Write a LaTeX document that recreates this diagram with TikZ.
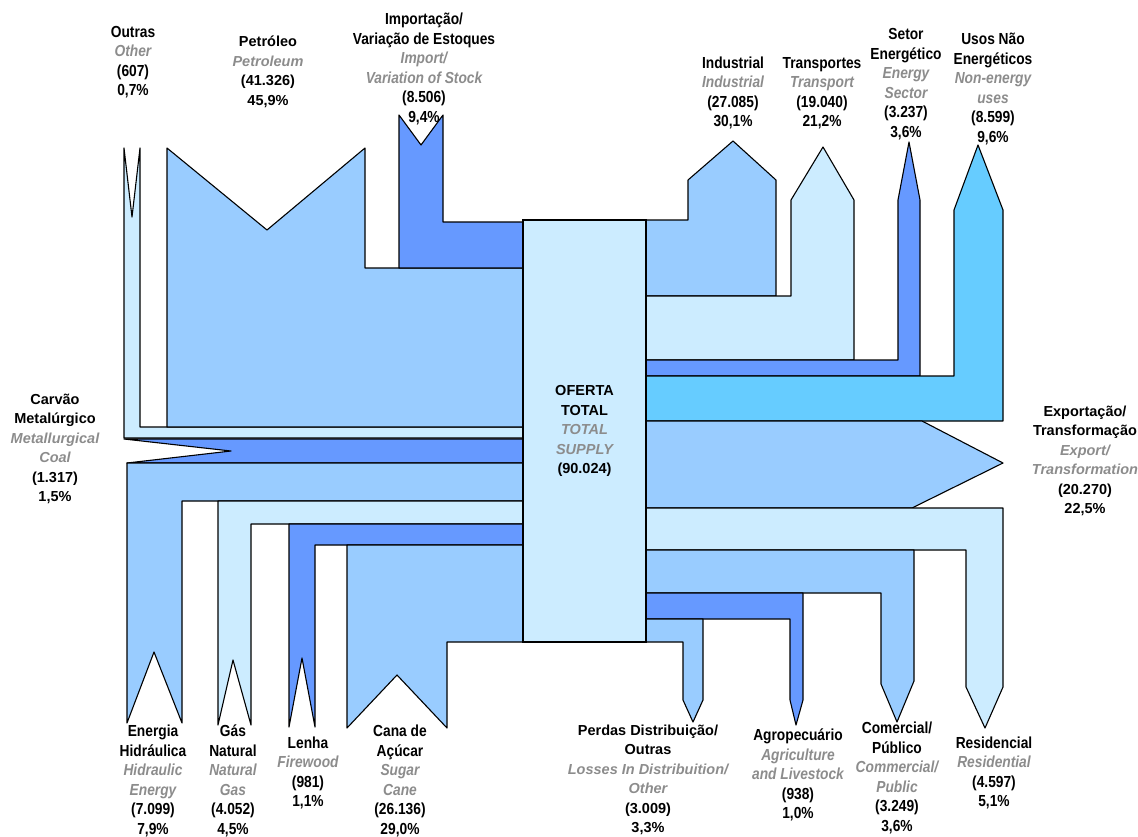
\documentclass[tikz,border=0pt]{standalone}
\usepackage{fontspec}
\setmainfont{Liberation Sans}
\newfontfamily\condfont{Liberation Sans}[FakeStretch=0.86]
\definecolor{flowmid}{HTML}{99CCFF}
\definecolor{flowlight}{HTML}{CCECFF}
\definecolor{flowdark}{HTML}{6699FF}
\definecolor{flowcyan}{HTML}{66CCFF}
\definecolor{engray}{HTML}{8C8C8C}
\newcommand{\en}[1]{\textcolor{engray}{\itshape #1}}
\tikzset{
  flow/.style={draw=black, line width=1.1pt, line join=round},
  lab/.style={align=center, inner sep=0pt, font=\condfont\bfseries\fontsize{16}{19.5}\selectfont},
  labn/.style={align=center, inner sep=0pt, font=\bfseries\fontsize{14.5}{19.5}\selectfont},
}
\begin{document}
\begin{tikzpicture}[x=1pt, y=-1pt]
\useasboundingbox (0,0) rectangle (1138,836);

% ---- sources (left / top / bottom) ----
% Outras
\filldraw[flow, fill=flowlight] (124,148) -- (132,217) -- (140,148) -- (140,427) -- (523,427) -- (523,438) -- (124,438) -- cycle;
% Petroleo
\filldraw[flow, fill=flowmid] (167,148) -- (267,230) -- (365,148) -- (365,268) -- (523,268) -- (523,427) -- (167,427) -- cycle;
% Importacao / variacao de estoques
\filldraw[flow, fill=flowdark] (399,115) -- (421,145) -- (443,115) -- (443,222) -- (523,222) -- (523,268) -- (399,268) -- cycle;
% Carvao metalurgico
\filldraw[flow, fill=flowdark] (124,439) -- (523,439) -- (523,463) -- (127,463) -- (231,451) -- cycle;
% Energia hidraulica
\filldraw[flow, fill=flowmid] (127,463) -- (523,463) -- (523,501) -- (182,501) -- (182,723) -- (154,652) -- (127,723) -- cycle;
% Gas natural
\filldraw[flow, fill=flowlight] (218,501) -- (523,501) -- (523,524) -- (251,524) -- (251,725) -- (233,660) -- (218,725) -- cycle;
% Lenha
\filldraw[flow, fill=flowdark] (289,524) -- (523,524) -- (523,545) -- (315,545) -- (315,727) -- (302,658) -- (289,727) -- cycle;
% Cana de acucar
\filldraw[flow, fill=flowmid] (347,545) -- (523,545) -- (523,642) -- (447,642) -- (447,728) -- (397,675) -- (347,728) -- cycle;

% ---- uses (right / top / bottom) ----
% Industrial
\filldraw[flow, fill=flowmid] (646,220) -- (688,220) -- (688,180) -- (733,141) -- (776,180) -- (776,296) -- (646,296) -- cycle;
% Transportes
\filldraw[flow, fill=flowlight] (646,296) -- (791,296) -- (791,200) -- (823,147) -- (854,200) -- (854,360) -- (646,360) -- cycle;
% Setor energetico
\filldraw[flow, fill=flowdark] (646,360) -- (898,360) -- (898,200) -- (909,142) -- (920,200) -- (920,376) -- (646,376) -- cycle;
% Usos nao energeticos
\filldraw[flow, fill=flowcyan] (646,376) -- (954,376) -- (954,210) -- (978,145) -- (1003,210) -- (1003,421) -- (646,421) -- cycle;
% Exportacao / transformacao
\filldraw[flow, fill=flowmid] (646,421) -- (922,421) -- (1003,463) -- (912,508) -- (646,508) -- cycle;
% Residencial
\filldraw[flow, fill=flowlight] (646,508) -- (1003,508) -- (1003,687) -- (985,728) -- (966,687) -- (966,550) -- (646,550) -- cycle;
% Comercial / publico
\filldraw[flow, fill=flowmid] (646,550) -- (914,550) -- (914,681) -- (897,722) -- (881,684) -- (881,593) -- (646,593) -- cycle;
% Agropecuario
\filldraw[flow, fill=flowdark] (646,593) -- (803,593) -- (803,700) -- (796,725) -- (790,700) -- (790,619) -- (646,619) -- cycle;
% Perdas
\filldraw[flow, fill=flowmid] (646,619) -- (703,619) -- (703,700) -- (693,722) -- (683,700) -- (683,642) -- (646,642) -- cycle;

% ---- total supply ----
\node[draw=black, line width=1.3pt, fill=flowlight, minimum width=123pt, minimum height=422pt,
      inner sep=0pt, align=center, font=\bfseries\fontsize{14.5}{19.5}\selectfont]
  (supply) at (584.5,431) {OFERTA\\TOTAL\\\en{TOTAL}\\\en{SUPPLY}\\(90.024)};

% ---- labels ----
\node[lab]  (lOutras)  at (133,62)  {Outras\\\en{Other}\\(607)\\0,7\%};
\node[labn] (lPetro)   at (268,72)  {Petróleo\\\en{Petroleum}\\(41.326)\\45,9\%};
\node[lab]  (lImport)  at (424,69)  {Importação/\\Variação de Estoques\\\en{Import/}\\\en{Variation of Stock}\\(8.506)\\9,4\%};
\node[lab]  (lInd)     at (733,93)  {Industrial\\\en{Industrial}\\(27.085)\\30,1\%};
\node[lab]  (lTransp)  at (822,93)  {Transportes\\\en{Transport}\\(19.040)\\21,2\%};
\node[lab]  (lSetor)   at (906,84)  {Setor\\Energético\\\en{Energy}\\\en{Sector}\\(3.237)\\3,6\%};
\node[lab]  (lUsos)    at (993,89)  {Usos Não\\Energéticos\\\en{Non-energy}\\\en{uses}\\(8.599)\\9,6\%};
\node[labn] (lCarvao)  at (55,449)  {Carvão\\Metalúrgico\\\en{Metallurgical}\\\en{Coal}\\(1.317)\\1,5\%};
\node[labn] (lExport)  at (1085,461) {Exportação/\\Transformação\\\en{Export/}\\\en{Transformation}\\(20.270)\\22,5\%};
\node[lab]  (lHidro)   at (153,781) {Energia\\Hidráulica\\\en{Hidraulic}\\\en{Energy}\\(7.099)\\7,9\%};
\node[lab]  (lGas)     at (233,781) {Gás\\Natural\\\en{Natural}\\\en{Gas}\\(4.052)\\4,5\%};
\node[lab]  (lLenha)   at (308,773) {Lenha\\\en{Firewood}\\(981)\\1,1\%};
\node[lab]  (lCana)    at (400,781) {Cana de\\Açúcar\\\en{Sugar}\\\en{Cane}\\(26.136)\\29,0\%};
\node[labn] (lPerdas)  at (648,780) {Perdas Distribuição/\\Outras\\\en{Losses In Distribuition/}\\\en{Other}\\(3.009)\\3,3\%};
\node[lab]  (lAgro)    at (798,775) {Agropecuário\\\en{Agriculture}\\\en{and Livestock}\\(938)\\1,0\%};
\node[lab]  (lComerc)  at (897,778) {Comercial/\\Público\\\en{Commercial/}\\\en{Public}\\(3.249)\\3,6\%};
\node[lab]  (lResid)   at (994,773) {Residencial\\\en{Residential}\\(4.597)\\5,1\%};
\end{tikzpicture}
\end{document}
